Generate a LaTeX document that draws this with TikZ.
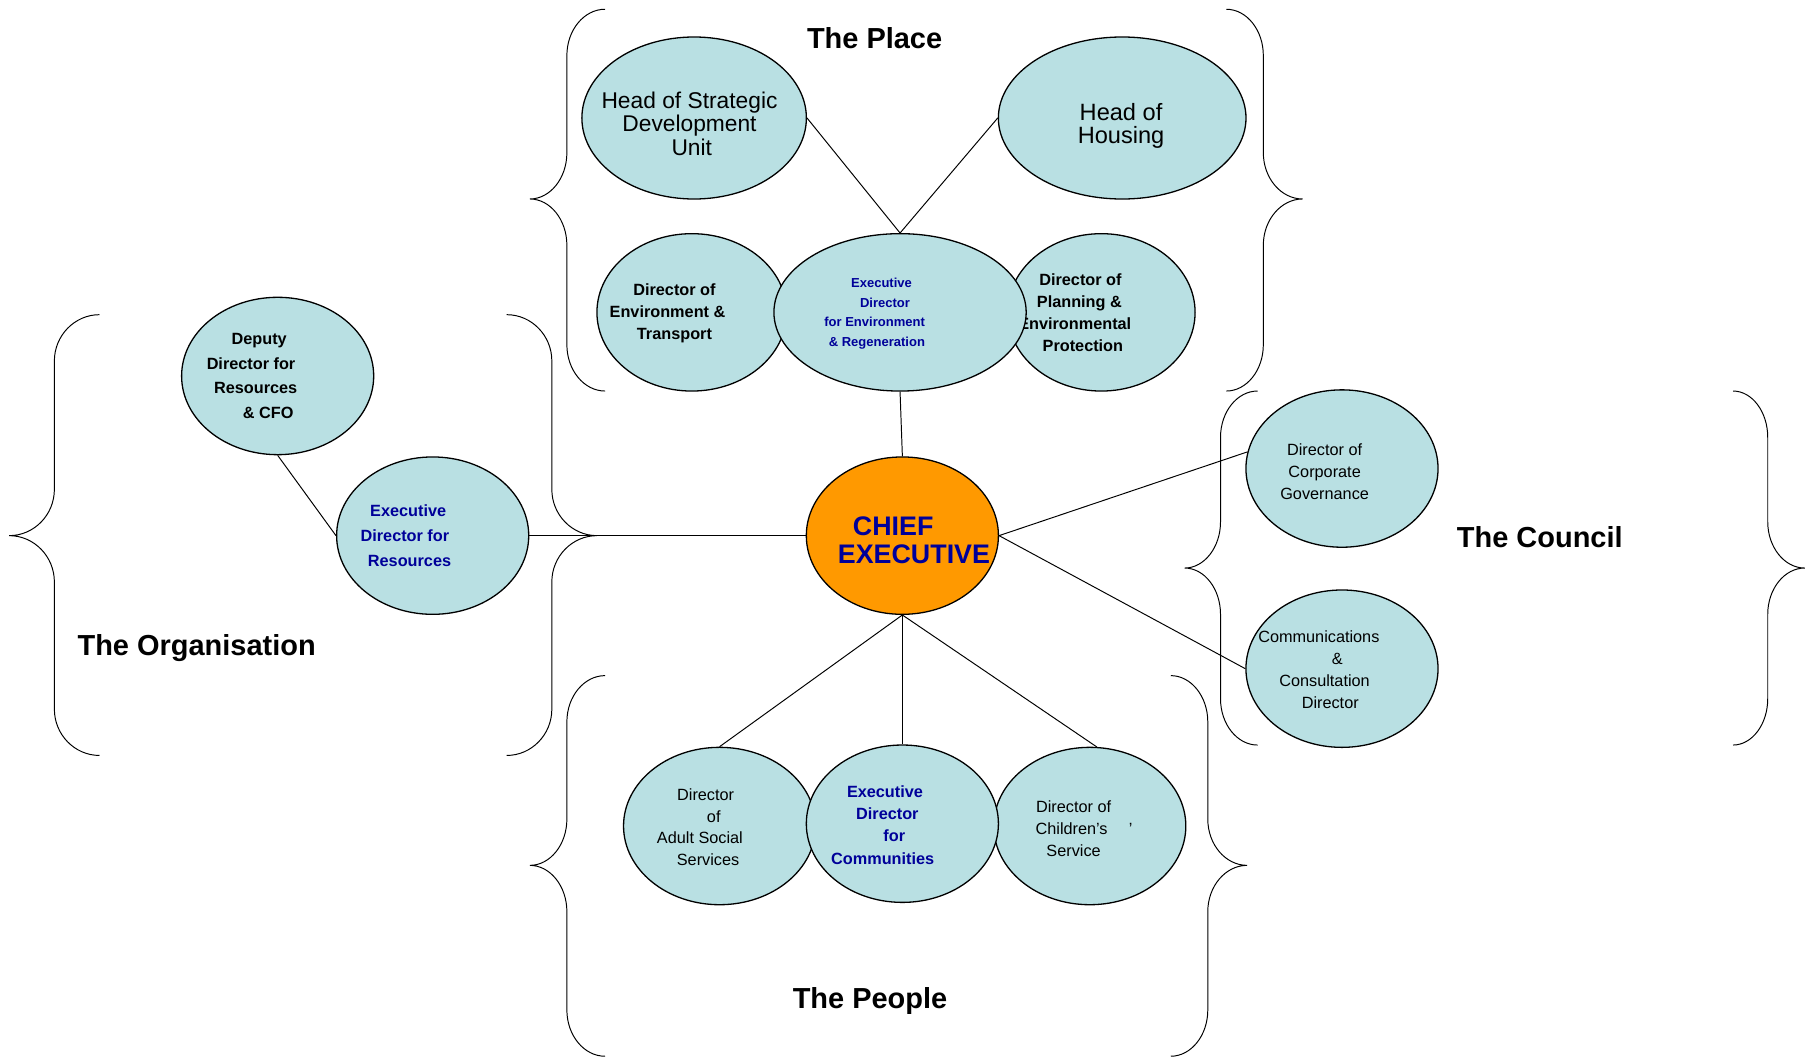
\documentclass[tikz,border=0pt]{standalone}
\usepackage{fontspec}
\setmainfont{Liberation Sans}
\usetikzlibrary{shapes.geometric}
\definecolor{ovalfill}{RGB}{185,224,227}
\definecolor{ceorange}{RGB}{255,153,0}
\definecolor{execblue}{RGB}{0,0,153}
\begin{document}
\begin{tikzpicture}[x=0.025cm,y=-0.025cm,
	oval/.style={ellipse,draw,line width=.8pt,fill=ovalfill,inner sep=0pt,minimum width=4.15cm,minimum height=3.4cm},
	link/.style={line width=.6pt},
	curly/.style={line width=.6pt},
	grouptitle/.style={font=\fontsize{17.8}{20}\selectfont\bfseries},
	plain/.style={align=center,inner sep=0pt,font=\fontsize{10}{13.5}\selectfont},
	boldtxt/.style={plain,font=\fontsize{10}{13.5}\selectfont\bfseries},
	exectxt/.style={boldtxt,text=execblue}]
	\useasboundingbox (0,0) rectangle (1568,913);
	\foreach \ea/\va/\ta/\ya/\ym/\yb in {523/490/458/8/172/338,1060/1092/1126/8/172/338,
		86/47/8/272/463/653,438/477/516/272/463/653,1087/1055/1024/338/491/644,
		1498/1528/1560/338/491/644,523/490/458/584/748/913,1012/1044/1078/584/748/913}
	\draw[curly] (\ea,\ya) .. controls ({\va+0.45*(\ea-\va)},\ya) and (\va,\ya+18) .. (\va,\ya+40)
	-- (\va,\ym-40) .. controls (\va,\ym-18) and ({\va+0.45*(\ta-\va)},\ym) .. (\ta,\ym)
	.. controls ({\va+0.45*(\ta-\va)},\ym) and (\va,\ym+18) .. (\va,\ym+40)
	-- (\va,\yb-40) .. controls (\va,\yb-18) and ({\va+0.45*(\ea-\va)},\yb) .. (\ea,\yb);
	\node[grouptitle] (place) at (756,33) {The Place};
	\node[grouptitle] (organisation) at (170,560) {The Organisation};
	\node[grouptitle] (council) at (1331,464) {The Council};
	\node[grouptitle] (people) at (752,865) {The People};
	\node[oval,minimum width=4.85cm,minimum height=3.5cm] (sdu) at (600,102) {};
	\node[plain,font=\fontsize{14}{14.2}\selectfont] (sdu-t) at (596,107) {Head of Strategic\\Development\hspace*{5.7pt}\\\hspace*{2.8pt}Unit};
	\node[oval,minimum width=5.35cm,minimum height=3.5cm] (housing) at (970,102) {};
	\node[plain,font=\fontsize{14.5}{14.2}\selectfont] (housing-t) at (969,109) {Head of\\Housing};
	\node[oval,minimum width=4.05cm] (planning) at (952,270) {};
	\node[boldtxt] (planning-t) at (929,270) {\hspace*{7pt}Director of\\\hspace*{5.7pt}Planning \&\\Environmental\\\hspace*{10pt}Protection};
	\node[oval,minimum width=4.1cm] (envtr) at (598,270) {};
	\node[boldtxt] (envtr-t) at (577,271) {\hspace*{8.5pt}Director of\\Environment \&\\\hspace*{8.5pt}Transport};
	\node[oval,minimum width=5.45cm] (execenv) at (778,270) {};
	\node[exectxt,font=\fontsize{8}{12}\selectfont\bfseries] (execenv-t) at (756,271) {\hspace*{8.5pt}Executive\\\hspace*{12.8pt}Director\\for Environment\\\hspace*{2.8pt}\& Regeneration};
	\node[oval] (deputy) at (240,325) {};
	\node[boldtxt,font=\fontsize{10}{15}\selectfont\bfseries] (deputy-t) at (217,325) {\hspace*{10pt}Deputy\\Director for\\\hspace*{5.7pt}Resources\\\hspace*{21pt}\& CFO};
	\node[oval] (execres) at (374,463) {};
	\node[exectxt,font=\fontsize{10}{15.2}\selectfont\bfseries] (execres-t) at (350,463) {\hspace*{4pt}Executive\\Director for\\\hspace*{5.7pt}Resources};
	\node[oval,fill=ceorange] (ce) at (780,463) {};
	\node[exectxt,font=\fontsize{16.5}{17.7}\selectfont\bfseries] (ce-t) at (790,467) {CHIEF\hspace*{25.5pt}\\EXECUTIVE};
	\node[oval] (corpgov) at (1160,405) {};
	\node[plain] (corpgov-t) at (1145,408) {Director of\\Corporate\\Governance};
	\node[oval] (comm) at (1160,578) {};
	\node[plain] (comm-t) at (1140,579) {Communications\\\hspace*{22.7pt}\&\\\hspace*{7pt}Consultation\\\hspace*{14pt}Director};
	\node[oval] (adult) at (622,714) {};
	\node[plain] (adult-t) at (605,715) {\hspace*{7pt}Director\\\hspace*{17pt}of\\Adult Social\\\hspace*{10pt}Services};
	\node[oval] (child) at (942,714) {};
	\node[plain] (child-t) at (928,716) {Director of\\\hspace*{12.8pt}Children's\hspace*{1.3em}'\\Service};
	\node[oval] (execcomm) at (780,712) {};
	\node[exectxt,font=\fontsize{10}{13.8}\selectfont\bfseries] (execcomm-t) at (763,713) {\hspace*{2.8pt}Executive\\\hspace*{5.7pt}Director\\\hspace*{14.2pt}for\\Communities};
	\foreach \a/\b in {sdu.east/execenv.north,housing.west/execenv.north,execenv.south/ce.north,
		deputy.south/execres.west,execres.east/ce.west,ce.east/corpgov.170,ce.east/comm.west,
		ce.south/adult.north,ce.south/execcomm.north,ce.south/child.85}
	\draw[link] (\a) -- (\b);
\end{tikzpicture}
\end{document}
